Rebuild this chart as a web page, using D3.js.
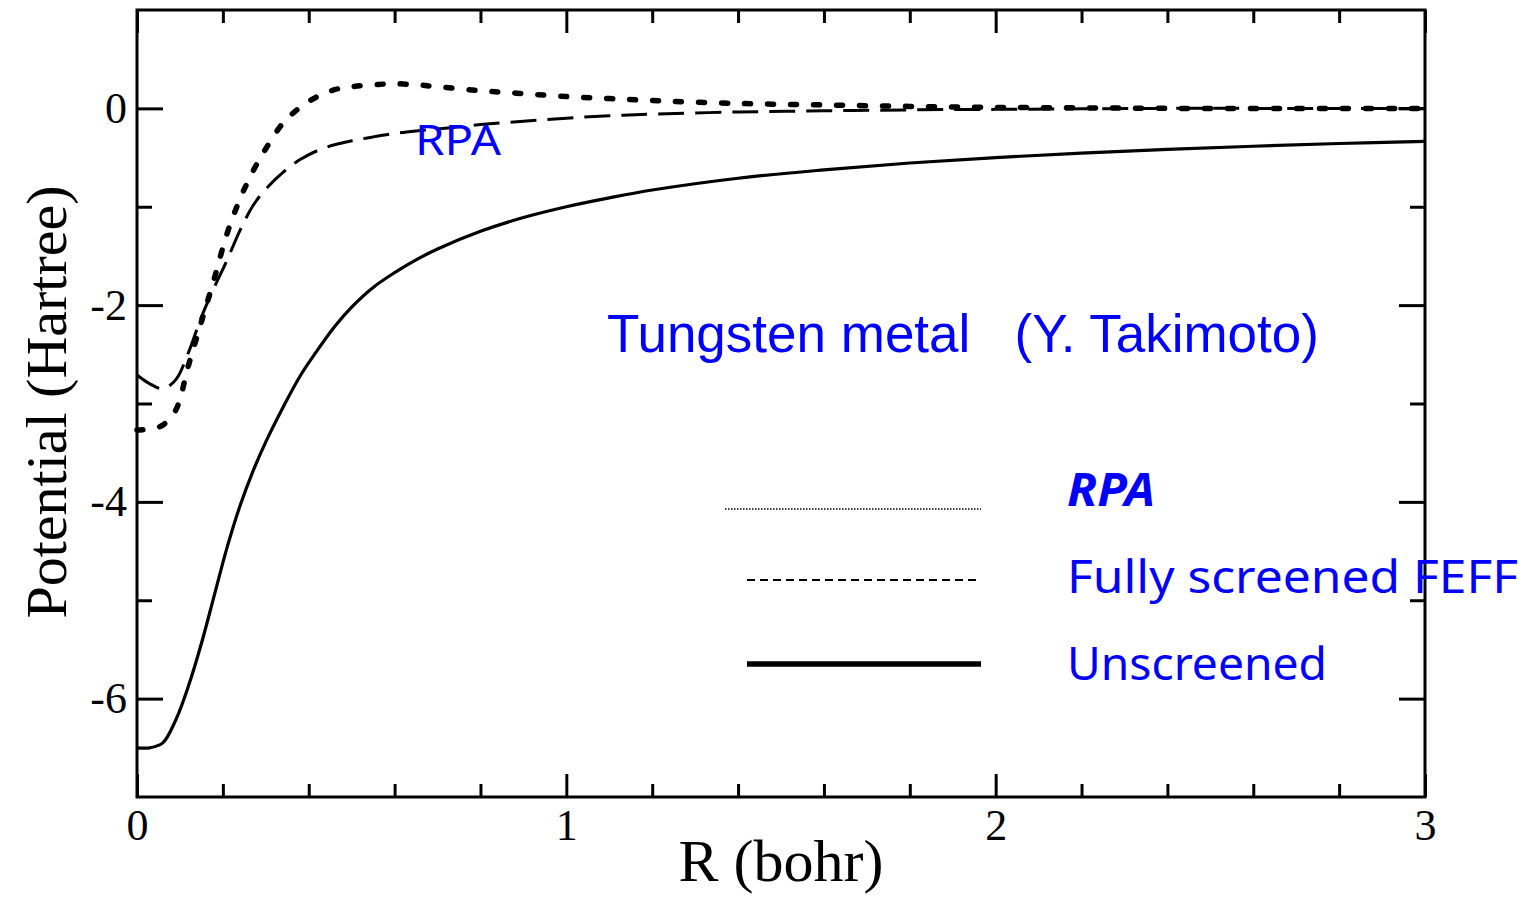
<!DOCTYPE html>
<html>
<head>
<meta charset="utf-8">
<script src="https://cdn.jsdelivr.net/npm/d3@7"></script>
<style>
  body { margin: 0; background: #fff; }
  .axis text { font-family: "Liberation Serif", "Times New Roman", serif; font-size: 44px; fill: #000; }
  .axis line { stroke: #000; stroke-width: 3px; }
  .axis path { display: none; }
  .note { font-family: "Comic Sans MS", "Noto Sans", sans-serif; fill: #0000ff; }
</style>
</head>
<body>
<div id="chart"></div>
<script>
// radial grid (bohr) and potentials (Hartree)
var rGrid = [0, 0.03, 0.06, 0.09, 0.12, 0.15, 0.18, 0.21, 0.24, 0.27, 0.30, 0.34, 0.38, 0.42, 0.46, 0.50,
             0.55, 0.60, 0.65, 0.70, 0.80, 0.90, 1.0, 1.1, 1.2, 1.4, 1.6, 1.8, 2.0, 2.2, 2.4, 2.6, 2.8, 3.0];

var rpaValues = [-3.27, -3.26, -3.22, -3.07, -2.61, -2.17, -1.73, -1.27, -0.92, -0.64, -0.41, -0.15, 0.01, 0.12, 0.19, 0.22,
                 0.24, 0.25, 0.24, 0.22, 0.18, 0.15, 0.12, 0.10, 0.08, 0.05, 0.035, 0.02, 0.01, 0.005, 0, 0, 0, 0];

var feffValues = [-2.71, -2.80, -2.85, -2.76, -2.48, -2.12, -1.82, -1.54, -1.24, -0.99, -0.82, -0.65, -0.52, -0.43, -0.37, -0.33,
                  -0.29, -0.255, -0.23, -0.21, -0.165, -0.13, -0.10, -0.075, -0.058, -0.037, -0.025, -0.015, -0.01, -0.005, 0, 0, 0, 0];

var unscreenedValues = [-6.5, -6.5, -6.45, -6.22, -5.87, -5.44, -4.95, -4.46, -4.04, -3.69, -3.39, -3.04, -2.72, -2.46, -2.22, -2.02,
                        -1.82, -1.67, -1.54, -1.43, -1.25, -1.11, -1.0, -0.91, -0.83, -0.71, -0.625, -0.555, -0.50, -0.455, -0.417, -0.385, -0.357, -0.335];

var xMajor = [0, 1, 2, 3];
var xMinor = [0.2, 0.4, 0.6, 0.8, 1.2, 1.4, 1.6, 1.8, 2.2, 2.4, 2.6, 2.8];
var yMajor = [0, -2, -4, -6];
var yMinor = [-1, -3, -5];

var legendLabels = ["RPA", "Fully screened FEFF", "Unscreened"];

function init() {
    var w = 1529;
    var h = 898;
    var left = 137, right = 1425, top = 10, bottom = 797;

    var xScale = d3.scaleLinear().domain([0, 3]).range([left, right]);
    var yScale = d3.scaleLinear().domain([-7, 1]).range([bottom, top]);

    var svg = d3.select("#chart")
                .append("svg")
                .attr("width", w)
                .attr("height", h);

    // ticks, all pointing inward
    svg.append("g").attr("class", "axis")
        .attr("transform", "translate(0," + bottom + ")")
        .call(d3.axisBottom(xScale).tickValues(xMajor).tickSize(-23).tickPadding(12)
              .tickFormat(function(d) { return String(d); }));
    svg.append("g").attr("class", "axis")
        .attr("transform", "translate(0," + bottom + ")")
        .call(d3.axisBottom(xScale).tickValues(xMinor).tickSize(-13).tickFormat(""));
    svg.append("g").attr("class", "axis")
        .attr("transform", "translate(0," + top + ")")
        .call(d3.axisTop(xScale).tickValues(xMajor).tickSize(-23).tickFormat(""));
    svg.append("g").attr("class", "axis")
        .attr("transform", "translate(0," + top + ")")
        .call(d3.axisTop(xScale).tickValues(xMinor).tickSize(-13).tickFormat(""));

    svg.append("g").attr("class", "axis")
        .attr("transform", "translate(" + left + ",0)")
        .call(d3.axisLeft(yScale).tickValues(yMajor).tickSize(-26).tickPadding(10)
              .tickFormat(function(d) { return String(d); }));
    svg.append("g").attr("class", "axis")
        .attr("transform", "translate(" + left + ",0)")
        .call(d3.axisLeft(yScale).tickValues(yMinor).tickSize(-15).tickFormat(""));
    svg.append("g").attr("class", "axis")
        .attr("transform", "translate(" + right + ",0)")
        .call(d3.axisRight(yScale).tickValues(yMajor).tickSize(-26).tickFormat(""));
    svg.append("g").attr("class", "axis")
        .attr("transform", "translate(" + right + ",0)")
        .call(d3.axisRight(yScale).tickValues(yMinor).tickSize(-15).tickFormat(""));

    // frame
    svg.append("rect")
        .attr("x", left).attr("y", top)
        .attr("width", right - left).attr("height", bottom - top)
        .attr("fill", "none").attr("stroke", "#000").attr("stroke-width", 3);

    function makeLine(values) {
        return d3.line()
                 .x(function(d, i) { return xScale(rGrid[i]); })
                 .y(function(d) { return yScale(d); })
                 .curve(d3.curveCatmullRom.alpha(0.5))(values);
    }

    svg.append("path")
        .attr("d", makeLine(unscreenedValues))
        .attr("fill", "none").attr("stroke", "#000").attr("stroke-width", 3.2);

    svg.append("path")
        .attr("d", makeLine(feffValues))
        .attr("fill", "none").attr("stroke", "#000").attr("stroke-width", 3)
        .attr("stroke-dasharray", "26,11");

    svg.append("path")
        .attr("d", makeLine(rpaValues))
        .attr("fill", "none").attr("stroke", "#000").attr("stroke-width", 5.5)
        .attr("stroke-linecap", "round")
        .attr("stroke-dasharray", "6,17");

    // axis titles
    svg.append("text")
        .attr("x", 781).attr("y", 881)
        .attr("text-anchor", "middle")
        .style("font-family", "'Liberation Serif', 'Times New Roman', serif")
        .style("font-size", "60px")
        .text("R (bohr)");

    svg.append("text")
        .attr("transform", "translate(66,402) rotate(-90)")
        .attr("text-anchor", "middle")
        .style("font-family", "'Liberation Serif', 'Times New Roman', serif")
        .style("font-size", "58px")
        .text("Potential (Hartree)");

    // annotations
    svg.append("text")
        .attr("x", 607).attr("y", 352)
        .style("font-family", "'Liberation Sans', Arial, sans-serif")
        .style("font-size", "53px")
        .style("fill", "#0000ff")
        .style("white-space", "pre")
        .text("Tungsten metal   (Y. Takimoto)");

    svg.append("text")
        .attr("class", "note")
        .attr("x", 415).attr("y", 155)
        .attr("textLength", 86).attr("lengthAdjust", "spacingAndGlyphs")
        .style("font-size", "42px")
        .text("RPA");

    // legend
    var legendY = [509, 580, 664];
    var legendX0 = [725, 747, 747];
    var legendStyles = [
        { width: 1.5, dash: "1.5,1.5" },
        { width: 2, dash: "8,5" },
        { width: 5.5, dash: null }
    ];
    var labelLen = [88, 451, 260];

    legendLabels.forEach(function(label, i) {
        svg.append("line")
            .attr("x1", legendX0[i]).attr("x2", 981)
            .attr("y1", legendY[i]).attr("y2", legendY[i])
            .attr("stroke", "#000")
            .attr("stroke-width", legendStyles[i].width)
            .attr("stroke-dasharray", legendStyles[i].dash);

        svg.append("text")
            .attr("class", "note")
            .attr("x", 1067).attr("y", [506, 593, 680][i])
            .attr("textLength", labelLen[i]).attr("lengthAdjust", "spacingAndGlyphs")
            .style("font-size", "46px")
            .style("font-weight", i === 0 ? "bold" : "normal")
            .style("font-style", i === 0 ? "italic" : "normal")
            .text(label);
    });
}
window.onload = init;
</script>
</body>
</html>
